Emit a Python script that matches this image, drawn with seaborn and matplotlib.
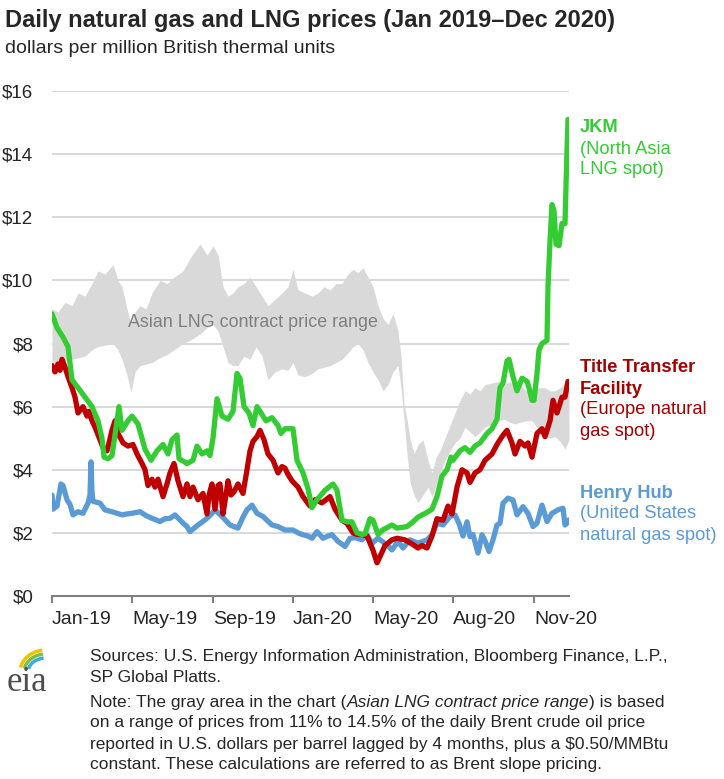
import numpy as np
import matplotlib
matplotlib.use("Agg")
import matplotlib.pyplot as plt
import seaborn as sns
from matplotlib.patches import Arc

# x values are trading-day positions along the category axis (tick every ~80 points)
tick_labels = ['Jan-19', 'May-19', 'Sep-19', 'Jan-20', 'May-20', 'Aug-20', 'Nov-20']
tick_pos = [0, 80, 161, 241, 321, 401, 482]

# Asian LNG contract price range (gray band)
band_x = [0, 6, 13, 20, 26, 33, 40, 46, 53, 61, 66, 70, 75, 79, 83, 88, 94, 100, 108, 115,
          122, 131, 138, 148, 155, 161, 166, 171, 176, 181, 186, 192, 198, 204, 210, 216, 223,
          230, 236, 241, 246, 253, 260, 266, 272, 278, 284, 290, 296, 301, 306, 311, 316, 321,
          326, 331, 336, 341, 346, 349, 352, 355, 358, 362, 366, 371, 376, 380, 384, 388, 393,
          398, 403, 408, 413, 418, 423, 428, 433, 440, 446, 452, 458, 463, 468, 474, 480, 486,
          493, 498, 503, 508, 513, 517]
band_hi = [9.1, 9.0, 9.3, 9.2, 9.6, 9.5, 9.9, 10.3, 10.2, 10.5, 10.0, 9.8, 9.1, 8.6, 9.0, 9.2,
           9.1, 9.6, 10.0, 9.9, 10.1, 10.3, 10.7, 11.15, 10.8, 11.1, 10.8, 9.8, 9.5, 9.6, 9.8,
           9.9, 10.1, 9.8, 9.5, 9.2, 9.4, 9.6, 9.8, 10.35, 9.7, 9.6, 9.5, 9.6, 9.8, 9.7, 9.9,
           9.9, 10.2, 10.35, 10.25, 10.4, 10.1, 9.8, 9.2, 8.8, 8.6, 8.95, 8.4, 7.6, 6.1, 5.6,
           5.0, 4.5, 4.8, 4.95, 4.3, 3.9, 4.4, 4.6, 5.0, 5.4, 5.8, 6.2, 6.5, 6.4, 6.6, 6.5, 6.7,
           6.75, 6.8, 6.7, 6.8, 6.6, 6.7, 6.5, 6.5, 6.6, 6.6, 6.5, 6.5, 6.6, 6.75, 6.5]
band_lo = [7.35, 7.4, 7.45, 7.5, 7.55, 7.6, 7.8, 7.9, 7.95, 8.0, 7.8, 7.5, 7.0, 6.45, 7.1, 7.3,
           7.35, 7.4, 7.55, 7.65, 7.8, 8.0, 8.1, 8.3, 8.5, 8.6, 8.4, 7.9, 7.4, 7.3, 7.3, 7.6,
           7.5, 7.9, 7.6, 6.85, 7.1, 7.2, 7.15, 7.4, 7.0, 6.95, 7.05, 7.2, 7.25, 7.3, 7.4, 7.5,
           7.7, 7.9, 8.0, 7.8, 7.4, 7.1, 6.85, 6.5, 6.7, 7.1, 7.3, 6.6, 5.6, 4.5, 3.6, 3.2,
           2.95, 3.2, 3.45, 3.15, 3.5, 3.9, 4.3, 4.6, 4.85, 5.0, 5.35, 5.2, 5.05, 5.2, 5.35,
           5.45, 5.55, 5.6, 5.5, 5.45, 5.5, 5.55, 5.55, 5.3, 5.05, 5.0, 5.05, 4.9, 4.65, 4.95]

# JKM (North Asia LNG spot)
jkm_x = [0, 5, 11, 16, 20, 26, 33, 40, 46, 50, 52, 56, 60, 63, 67, 70, 76, 80, 86, 93, 99,
         105, 111, 116, 120, 125, 127, 135, 141, 145, 150, 155, 158, 161, 165, 170, 176, 181,
         185, 188, 192, 197, 201, 205, 210, 214, 220, 226, 229, 233, 241, 245, 251, 256, 260,
         265, 273, 281, 285, 290, 295, 300, 305, 310, 313, 318, 321, 326, 331, 340, 345, 355,
         361, 366, 375, 380, 385, 390, 395, 399, 401, 408, 413, 418, 423, 428, 435, 440, 445,
         448, 451, 455, 457, 461, 465, 470, 475, 477, 480, 482, 485, 487, 490, 495, 496, 498,
         500, 502, 504, 507, 510, 513, 514, 515, 516]
jkm_y = [8.94, 8.5, 8.2, 7.9, 6.85, 6.6, 6.3, 6.0, 5.55, 5.0, 4.4, 4.35, 4.45, 5.1, 6.0, 5.25,
         5.55, 5.7, 5.45, 4.65, 4.3, 4.6, 4.8, 4.5, 4.95, 5.1, 4.35, 4.2, 4.3, 4.75, 4.5, 4.6,
         4.45, 5.0, 6.25, 5.7, 5.6, 5.85, 7.05, 6.9, 6.0, 5.8, 5.4, 6.0, 5.75, 5.55, 5.65, 5.4,
         5.15, 5.3, 5.3, 4.3, 3.9, 3.4, 2.8, 3.05, 3.35, 3.55, 3.35, 2.4, 2.35, 2.35, 2.0, 1.95,
         1.97, 2.45, 2.4, 1.95, 2.1, 2.25, 2.15, 2.2, 2.35, 2.5, 2.65, 2.75, 3.15, 3.8, 4.0, 4.4,
         4.3, 4.6, 4.7, 4.55, 4.75, 4.85, 5.15, 5.3, 5.6, 6.6, 6.75, 7.45, 7.5, 6.95, 6.5, 6.9,
         6.8, 6.6, 6.2, 6.2, 7.05, 7.8, 8.0, 8.1, 9.8, 11.25, 12.4, 12.2, 11.15, 11.1, 11.8,
         11.8, 13.0, 14.1, 15.1]

# Title Transfer Facility (Europe natural gas spot)
ttf_x = [0, 3, 6, 8, 10, 13, 16, 20, 23, 26, 31, 35, 37, 40, 43, 48, 51, 55, 57, 60, 63, 66,
         71, 76, 81, 85, 90, 93, 96, 100, 103, 106, 111, 115, 118, 122, 126, 131, 135, 138, 141,
         146, 151, 155, 157, 160, 163, 166, 168, 171, 174, 176, 179, 182, 186, 191, 195, 198,
         201, 205, 208, 212, 216, 221, 226, 230, 233, 236, 240, 246, 251, 258, 263, 270, 278,
         283, 290, 295, 301, 305, 310, 315, 321, 325, 328, 333, 340, 345, 353, 360, 366, 370,
         375, 380, 385, 391, 396, 400, 405, 410, 415, 418, 423, 428, 433, 440, 445, 450, 455,
         460, 463, 468, 473, 476, 480, 485, 490, 493, 498, 501, 505, 510, 513, 516]
ttf_y = [7.3, 7.1, 7.35, 7.15, 7.5, 7.25, 6.95, 6.6, 6.3, 5.8, 6.0, 5.7, 5.85, 5.55, 5.35, 4.95,
         4.7, 4.6, 4.85, 5.25, 5.55, 5.15, 4.85, 4.75, 4.8, 4.5, 4.2, 4.0, 3.5, 3.7, 3.45, 3.7,
         3.15, 3.55, 3.9, 4.2, 3.65, 3.15, 3.55, 3.15, 3.45, 3.05, 3.25, 2.6, 3.2, 3.55, 2.75,
         3.5, 3.55, 2.6, 3.2, 3.65, 3.2, 3.3, 3.55, 3.25, 4.0, 4.6, 4.9, 5.05, 5.25, 4.95, 4.5,
         4.3, 3.9, 4.1, 4.05, 3.85, 3.65, 3.45, 3.15, 2.85, 3.05, 2.95, 3.15, 2.75, 2.4, 2.3,
         2.0, 1.95, 1.95, 1.9, 1.45, 1.05, 1.25, 1.6, 1.78, 1.83, 1.78, 1.65, 1.52, 1.6, 1.52,
         1.9, 2.45, 2.4, 2.85, 2.6, 3.45, 4.0, 3.9, 3.6, 3.9, 4.0, 4.3, 4.5, 4.8, 5.05, 5.25,
         4.85, 4.5, 4.9, 4.75, 4.85, 4.4, 5.15, 5.3, 5.05, 5.55, 6.2, 5.8, 6.3, 6.3, 6.8]

# Henry Hub (United States natural gas spot)
hh_x = [0, 1, 5, 9, 11, 15, 18, 21, 26, 31, 36, 38, 39, 40, 41, 48, 53, 60, 65, 70, 75, 80,
        88, 94, 100, 108, 113, 118, 123, 131, 135, 138, 146, 153, 158, 163, 170, 178, 186, 191,
        195, 200, 205, 211, 220, 226, 233, 241, 246, 251, 256, 260, 265, 271, 276, 280, 286,
        293, 298, 303, 310, 315, 320, 326, 335, 340, 346, 351, 358, 366, 375, 380, 385, 391,
        398, 403, 407, 411, 415, 418, 421, 426, 430, 433, 437, 441, 445, 448, 451, 456, 461,
        465, 471, 476, 481, 485, 490, 495, 500, 506, 511, 513, 515, 517]
hh_y = [3.2, 2.75, 2.85, 3.55, 3.5, 3.05, 2.9, 2.57, 2.67, 2.62, 2.94, 3.2, 4.25, 3.3, 3.0,
        2.94, 2.73, 2.67, 2.62, 2.57, 2.6, 2.62, 2.67, 2.55, 2.46, 2.36, 2.45, 2.46, 2.57, 2.31,
        2.2, 2.04, 2.25, 2.41, 2.55, 2.73, 2.52, 2.25, 2.15, 2.5, 2.73, 2.88, 2.62, 2.52, 2.25,
        2.2, 2.09, 2.09, 2.0, 1.94, 1.9, 1.83, 2.04, 1.83, 1.9, 1.94, 1.73, 1.57, 1.83, 1.85,
        1.78, 1.94, 1.67, 1.83, 1.62, 1.46, 1.73, 1.52, 1.78, 1.67, 1.78, 1.94, 2.31, 2.25,
        2.52, 2.57, 2.3, 1.9, 2.35, 1.88, 1.95, 1.36, 1.94, 1.75, 1.41, 1.78, 2.25, 2.3, 2.94,
        3.1, 3.04, 2.57, 2.83, 2.62, 2.2, 2.31, 2.88, 2.36, 2.62, 2.73, 2.78, 2.25, 2.31, 2.41]

green = '#33cc33'
red = '#c00000'
blue = '#5b9bd5'

sns.set_style('white')
plt.rcParams['font.family'] = ['Liberation Sans', 'DejaVu Sans']

W, H = 724, 779
fig = plt.figure(figsize=(W / 100, H / 100), dpi=100)
ax = fig.add_axes([52 / W, 1 - 596 / H, 517 / W, 505 / H])

ax.fill_between(band_x, band_lo, band_hi, color='#d9d9d9', linewidth=0, zorder=1)
sns.lineplot(x=ttf_x, y=ttf_y, color=red, linewidth=3.8, ax=ax, zorder=3)
sns.lineplot(x=jkm_x, y=jkm_y, color=green, linewidth=3.8, ax=ax, zorder=4)
sns.lineplot(x=hh_x, y=hh_y, color=blue, linewidth=3.8, ax=ax, zorder=2)

ax.set_xlim(0, 517)
ax.set_ylim(0, 16)
ax.set_yticks(range(0, 17, 2))
ax.set_yticklabels(['$%d' % v for v in range(0, 17, 2)], fontsize=13.5)
ax.set_xticks(tick_pos)
ax.set_xticklabels(tick_labels, fontsize=14, ha='left')
ax.yaxis.grid(True, color='#d9d9d9', linewidth=1.4, zorder=0)
ax.set_axisbelow(True)
for s in ['top', 'right', 'left']:
    ax.spines[s].set_visible(False)
ax.spines['bottom'].set_color('#808080')
ax.spines['bottom'].set_linewidth(1.5)
ax.tick_params(axis='x', bottom=True, length=5, width=1.5, color='#808080', pad=6)
ax.tick_params(axis='y', left=False, pad=10)

ax.text(76, 8.65, 'Asian LNG contract price range', color='#7f7f7f', fontsize=12.9,
        va='center', zorder=5)


def fpos(x, y):
    return x / W, 1 - y / H


fig.text(*fpos(5, 27), 'Daily natural gas and LNG prices (Jan 2019\u2013Dec 2020)',
         fontsize=17, fontweight='bold', va='baseline')
fig.text(*fpos(5, 53), 'dollars per million British thermal units', fontsize=14,
         va='baseline')

# series labels
lab = [(green, 128, 'JKM', 'bold'), (green, 149, '(North Asia', 'normal'),
       (green, 170, 'LNG spot)', 'normal'),
       (red, 368, 'Title Transfer', 'bold'), (red, 389, 'Facility', 'bold'),
       (red, 410, '(Europe natural', 'normal'), (red, 431, 'gas spot)', 'normal'),
       (blue, 493, 'Henry Hub', 'bold'), (blue, 514, '(United States', 'normal'),
       (blue, 535, 'natural gas spot)', 'normal')]
for c, y, t, w in lab:
    cc = '#a50000' if c == red else c
    fig.text(*fpos(580, y), t, color=cc, fontsize=13.2, fontweight=w, va='center')

# footer
fs = 12.5
fig.text(*fpos(90, 656), 'Sources: U.S. Energy Information Administration, Bloomberg Finance, L.P.,',
         fontsize=fs, va='center')
fig.text(*fpos(90, 678), 'SP Global Platts.', fontsize=fs, va='center')
renderer = fig.canvas.get_renderer()
x0 = 90
for part, style in [('Note: The gray area in the chart (', 'normal'),
                    ('Asian LNG contract price range', 'italic'),
                    (') is based', 'normal')]:
    t = fig.text(*fpos(x0, 702), part, fontsize=fs, style=style, va='center')
    x0 += t.get_window_extent(renderer).width
for i, line in enumerate(['on a range of prices from 11% to 14.5% of the daily Brent crude oil price',
                          'reported in U.S. dollars per barrel lagged by 4 months, plus a $0.50/MMBtu',
                          'constant. These calculations are referred to as Brent slope pricing.']):
    fig.text(*fpos(90, 723 + 21 * i), line, fontsize=fs, va='center')

# eia logo
fig.text(*fpos(7, 691), 'eia', family='Liberation Serif', fontsize=25, color='#4d4d4d',
         va='baseline')
lax = fig.add_axes([8 / W, 1 - 672 / H, 36 / W, 26 / H])
lax.set_xlim(0, 36)
lax.set_ylim(0, 26)
lax.axis('off')
for r, c in [(22, '#f2c200'), (18, '#7dc142'), (14, '#3fa9e0')]:
    lax.add_patch(Arc((38, 0), 2 * r + 8, 2 * r, theta1=100, theta2=170, color=c, lw=2.5))

fig.savefig('out.png', dpi=100)
